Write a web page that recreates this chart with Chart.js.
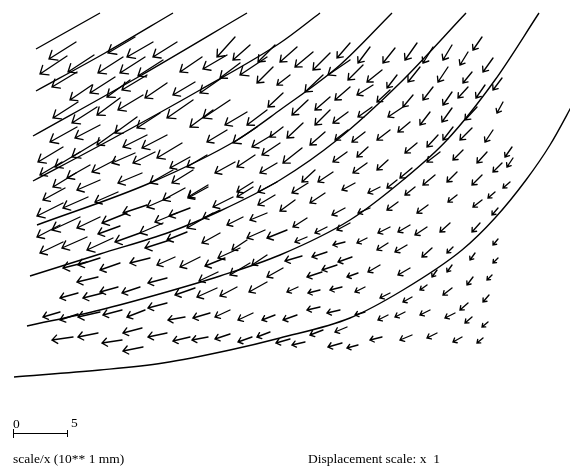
<!DOCTYPE html>
<html>
<head>
<meta charset="utf-8">
<script src="https://cdn.jsdelivr.net/npm/chart.js@4.4.0/dist/chart.umd.min.js"></script>
<style>
  html, body { margin: 0; padding: 0; background: #fff; }
  #wrap { position: relative; width: 570px; height: 468px; }
  canvas { display: block; }
</style>
</head>
<body>
<div id="wrap"><canvas id="field" width="570" height="468"></canvas></div>
<script>
// Grid nodes (plot units, y measured downward) and their displacement components.
const nodeX = [
  76,67,77,94,135,153,177,123,145,163,202,227,235,250,275,297,
  92,115,130,147,167,195,223,240,267,273,290,78,97,120,143,193,213,230,247,267,283,
  77,100,118,137,160,147,167,182,227,257,272,283,
  63,80,100,62,76,65,90,100,115,135,155,190,207,235,255,277,280,142,173,193,208,253,302,
  118,88,63,147,170,185,208,233,253,277,275,295,60,80,100,120,127,163,177,190,213,220,243,267,287,63,87,113,140,170,187,220,247,240,225,265,
  87,100,120,150,175,200,250,267,302,98,167,218,283,78,103,118,140,195,217,237,267,298,60,78,100,122,145,167,185,210,230,253,275,297,73,98,122,142,143,167,190,208,230,252,270,290,
  313,330,350,350,370,395,417,433,452,468,482,323,363,382,397,420,448,472,493,308,330,350,373,390,413,433,452,468,485,502,303,330,348,372,403,410,430,452,477,503,325,348,365,390,417,438,453,472,493,512,347,368,315,333,367,388,412,440,463,487,502,513,
  308,355,380,397,415,435,457,482,495,510,457,482,325,345,370,398,428,450,480,498,307,327,350,307,390,410,427,327,345,367,352,388,407,432,453,475,498,322,337,358,380,410,437,452,498,473,492,320,342,365,390,412,427,452,489,320,340,365,388,405,430,455,468,472,488,323,347,305,342,358,382,412,437,462,483
];
const nodeY = [
  42,56,72,55,37,42,42,57,57,60,57,55,37,45,45,47,
  85,77,80,75,83,82,77,63,57,67,75,102,107,98,95,100,110,100,112,110,93,
  127,125,130,117,113,135,135,143,130,127,135,127,
  147,152,140,162,173,188,165,180,160,153,152,157,155,162,155,163,143,173,170,170,185,182,148,
  192,197,203,205,197,188,187,197,187,182,195,200,225,217,217,226,213,223,213,208,213,210,217,213,230,242,237,238,233,240,232,233,240,248,258,230,
  262,258,263,258,257,257,263,255,256,277,278,272,268,293,293,287,287,288,288,287,282,287,312,314,312,310,310,303,317,313,310,313,315,315,337,333,340,328,347,333,337,337,334,337,332,339,
  52,53,60,43,47,48,43,47,45,52,37,75,65,70,75,67,67,72,58,100,97,87,85,90,95,87,92,87,85,78,123,110,112,107,107,122,112,108,107,102,132,130,132,130,143,135,127,128,130,147,152,147,170,172,163,160,168,152,150,152,163,158,
  183,183,187,180,187,175,172,175,192,182,195,200,193,208,208,202,205,223,223,208,218,227,223,237,227,225,227,252,242,238,257,243,245,248,247,253,239,272,265,273,265,268,270,265,258,277,275,290,287,287,293,297,285,288,295,307,310,312,315,312,310,313,303,317,322,330,327,342,343,345,337,335,333,337,338
];
const dispX = [
  -27,-27,-25,-26,-27,-26,-24,-25,-25,-25,-22,-24,-18,-17,-17,-17,
  -22,-25,-23,-25,-22,-22,-23,-20,-27,-16,-13,-25,-25,-23,-25,-26,-23,-27,-22,-20,-15,
  -27,-25,-21,-22,-23,-24,-25,-25,-20,-24,-20,-13,
  -25,-25,-28,-22,-23,-22,-23,-23,-23,-23,-22,-20,-20,-20,-18,-17,-18,-24,-23,-21,-20,-16,-19,
  -23,-25,-26,-24,-23,-22,-20,-20,-16,-19,-17,-15,-23,-28,-23,-22,-25,-23,-22,-21,-26,-17,-16,-17,-20,-23,-25,-26,-25,-25,-20,-18,-15,-22,-20,-18,
  -24,-22,-20,-20,-18,-20,-20,-15,-17,-21,-19,-19,-16,-18,-20,-18,-18,-20,-20,-17,-18,-11,-17,-18,-22,-19,-18,-19,-17,-17,-15,-15,-13,-14,-21,-20,-20,-19,-20,-19,-17,-16,-15,-14,-13,-14,
  -18,-17,-22,-13,-12,-12,-12,-10,-9,-8,-9,-18,-15,-15,-10,-12,-10,-9,-10,-16,-15,-15,-16,-13,-10,-10,-9,-10,-9,-9,-16,-15,-15,-14,-15,-12,-10,-10,-12,-6,-15,-13,-13,-13,-12,-11,-10,-12,-8,-7,-14,-11,-13,-15,-14,-11,-12,-13,-10,-10,-9,-6,
  -16,-13,-12,-10,-10,-12,-10,-10,-7,-7,-9,-9,-15,-13,-12,-11,-11,-10,-8,-6,-14,-12,-13,-12,-12,-12,-12,-15,-12,-10,-14,-11,-12,-10,-6,-5,-5,-15,-15,-11,-12,-12,-5,-5,-5,-6,-5,-12,-12,-10,-10,-9,-7,-9,-6,-13,-13,-10,-10,-10,-10,-10,-8,-7,-6,-13,-12,-13,-14,-11,-12,-12,-10,-9,-6
];
const dispY = [
  17,18,15,17,16,15,15,16,16,16,15,14,20,15,17,15,
  15,16,17,15,15,13,16,15,18,16,10,16,16,17,15,18,17,18,13,15,14,
  15,13,15,16,15,12,13,15,12,16,12,10,
  15,15,17,13,14,12,13,10,12,10,11,11,12,11,12,10,12,10,13,13,12,10,15,
  10,11,13,8,10,12,11,10,10,10,10,11,12,13,11,8,10,10,9,8,15,8,8,7,8,11,11,12,9,8,8,10,10,10,8,8,
  6,7,7,5,8,10,12,10,5,5,5,9,9,5,5,5,6,7,9,9,10,5,5,6,5,5,7,5,3,5,7,7,5,5,3,4,3,5,4,4,4,3,5,5,5,4,
  15,17,15,15,16,15,17,16,15,13,13,17,15,12,13,15,15,11,14,15,13,13,10,12,12,13,13,11,13,12,15,15,11,10,10,10,13,14,13,11,13,10,10,10,10,12,13,12,12,10,10,10,12,10,10,10,10,10,10,11,9,9,
  10,7,6,8,8,10,10,10,6,6,7,7,10,7,5,8,8,9,9,7,9,6,7,5,6,7,8,5,3,5,5,7,7,9,6,7,6,5,5,4,7,7,7,7,5,8,5,3,3,5,5,5,5,7,7,3,3,3,5,5,5,5,7,6,5,5,5,3,4,3,3,5,5,5,5
];

// Deformed reference lines of the mesh, as [x, y] points.
const gridLine1 = [[36,49],[68,31],[100,13]];
const gridLine2 = [[36,91],[105,53],[173,13]];
const gridLine3 = [[33,136],[140,76],[247,13]];
const gridLine4 = [[33,181],[110,140],[200,90],[280,43],[320,13]];
const gridLine5 = [[37,225],[150,183],[237,140],[280,110],[340,65],[392,13]];
const gridLine6 = [[30,276],[100,254],[170,232],[220,211],[280,180],[337,140],[400,83],[466,13]];
const gridLine7 = [[27,326],[100,310],[163,293],[220,276],[280,255],[350,220],[403,180],[447,140],[495,80],[539,13]];
const gridLine8 = [[14,377],[100,370],[163,363],[230,350],[280,338],[350,318],[403,290],[462,250],[495,218],[526,180],[550,145],[575,100]];

const scaleBarTicks = ['0', '5'];
const lengthUnitLabel = 'scale/x (10** 1 mm)';
const displacementLabel = 'Displacement scale: x  1';
const displacementScale = 1;

const gridLines = [gridLine1, gridLine2, gridLine3, gridLine4, gridLine5, gridLine6, gridLine7, gridLine8];

// Draws one arrow per node, from the node to its displaced position.
const arrowPlugin = {
  id: 'displacementArrows',
  afterDatasetsDraw(chart) {
    const { ctx, scales: { x, y } } = chart;
    ctx.save();
    ctx.strokeStyle = '#000';
    ctx.lineWidth = 1.35;
    ctx.lineCap = 'round';
    ctx.lineJoin = 'miter';
    for (let i = 0; i < nodeX.length; i++) {
      const x0 = x.getPixelForValue(nodeX[i]);
      const y0 = y.getPixelForValue(nodeY[i]);
      const x1 = x.getPixelForValue(nodeX[i] + dispX[i] * displacementScale);
      const y1 = y.getPixelForValue(nodeY[i] + dispY[i] * displacementScale);
      const len = Math.hypot(x1 - x0, y1 - y0);
      const ang = Math.atan2(y1 - y0, x1 - x0);
      const head = Math.min(9, 2 + 0.22 * len);
      const spread = 0.68;
      ctx.beginPath();
      ctx.moveTo(x0, y0);
      ctx.lineTo(x1, y1);
      ctx.moveTo(x1 - head * Math.cos(ang - spread), y1 - head * Math.sin(ang - spread));
      ctx.lineTo(x1, y1);
      ctx.lineTo(x1 - head * Math.cos(ang + spread), y1 - head * Math.sin(ang + spread));
      ctx.stroke();
    }
    ctx.restore();
  }
};

// Length scale bar and the two footer notes.
const legendPlugin = {
  id: 'scaleLegend',
  afterDraw(chart) {
    const { ctx, scales: { x, y } } = chart;
    const bx0 = x.getPixelForValue(13), bx1 = x.getPixelForValue(67);
    const by = y.getPixelForValue(433);
    ctx.save();
    ctx.strokeStyle = '#000';
    ctx.lineWidth = 1;
    ctx.beginPath();
    ctx.moveTo(bx0, by + 0.5); ctx.lineTo(bx1, by + 0.5);
    ctx.moveTo(bx0 + 0.5, by - 4); ctx.lineTo(bx0 + 0.5, by + 5);
    ctx.moveTo(bx1 + 0.5, by - 3); ctx.lineTo(bx1 + 0.5, by + 4);
    ctx.stroke();
    ctx.fillStyle = '#000';
    ctx.font = '13.5px "Liberation Serif", "Times New Roman", serif';
    ctx.textBaseline = 'alphabetic';
    ctx.textAlign = 'left';
    ctx.fillText(scaleBarTicks[0], bx0, by - 5);
    ctx.fillText(scaleBarTicks[1], bx1 + 4, by - 6);
    ctx.fillText(lengthUnitLabel, bx0, y.getPixelForValue(463));
    ctx.fillText(displacementLabel, x.getPixelForValue(308), y.getPixelForValue(463));
    ctx.restore();
  }
};

new Chart(document.getElementById('field'), {
  type: 'scatter',
  data: {
    datasets: gridLines.map((pts, i) => ({
      label: 'line ' + (i + 1),
      data: pts.map(p => ({ x: p[0], y: p[1] })),
      showLine: true,
      borderColor: '#000',
      borderWidth: 1.4,
      pointRadius: 0,
      cubicInterpolationMode: 'monotone',
      fill: false
    }))
  },
  options: {
    responsive: false,
    animation: false,
    events: [],
    layout: { padding: 0 },
    plugins: { legend: { display: false }, tooltip: { enabled: false }, title: { display: false } },
    scales: {
      x: { type: 'linear', min: 0, max: 570, display: false },
      y: { type: 'linear', min: 0, max: 468, reverse: true, display: false }
    }
  },
  plugins: [arrowPlugin, legendPlugin]
});
</script>
</body>
</html>
